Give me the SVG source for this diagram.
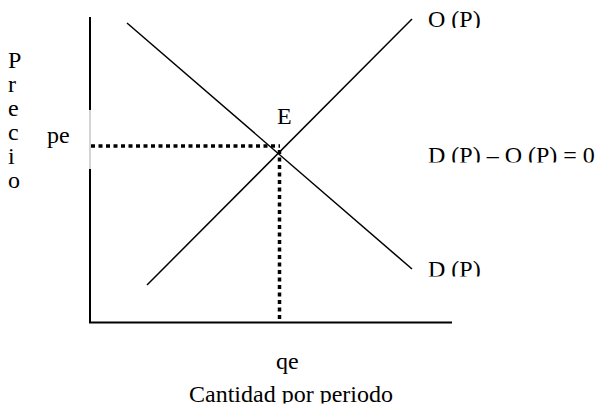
<svg xmlns="http://www.w3.org/2000/svg" width="607" height="415" viewBox="0 0 607 415">
<defs>
<style>
text{font-family:"Liberation Serif","Times New Roman",serif;font-size:24px;fill:#000}
.ax{stroke:#000;stroke-width:2;fill:none}
.cv{stroke:#000;stroke-width:1.5;fill:none}
.dot{stroke:#000;stroke-width:3.5;stroke-dasharray:4 3.5;fill:none}
</style>
<clipPath id="c1"><rect x="420" y="0" width="120" height="28"/></clipPath>
<clipPath id="c2"><rect x="420" y="140" width="187" height="22.5"/></clipPath>
<clipPath id="c3"><rect x="420" y="255" width="120" height="21.5"/></clipPath>
<clipPath id="c4"><rect x="150" y="380" width="300" height="23.5"/></clipPath>
</defs>
<g id="axes">
<line class="ax" x1="90" y1="17" x2="90" y2="110"/>
<line x1="90" y1="110" x2="90" y2="169" stroke="#aaa" stroke-width="1"/>
<line class="ax" x1="90" y1="169" x2="90" y2="323"/>
<line class="ax" x1="89" y1="322.5" x2="452" y2="322.5"/>
</g>
<g id="connectors">
<line id="demand" class="cv" x1="127" y1="23" x2="412" y2="269"/>
<line id="supply" class="cv" x1="147" y1="285" x2="412" y2="19"/>
<line class="dot" x1="91" y1="146" x2="280" y2="146"/>
<line class="dot" x1="279.5" y1="150" x2="279.5" y2="321"/>
</g>
<g id="ylabel">
<text x="8" y="68">P</text>
<text x="8" y="92">r</text>
<text x="8" y="116">e</text>
<text x="8" y="140">c</text>
<text x="8" y="164">i</text>
<text x="8" y="188">o</text>
</g>
<g id="pe"><text x="47" y="143">pe</text></g>
<g id="E"><text x="277" y="124">E</text></g>
<g id="O"><text x="428" y="27" clip-path="url(#c1)">O (P)</text></g>
<g id="eq"><text x="428" y="163" clip-path="url(#c2)">D (P) – O (P) = 0</text></g>
<g id="D"><text x="428" y="277" clip-path="url(#c3)">D (P)</text></g>
<g id="qe"><text x="276" y="369">qe</text></g>
<g id="xlabel"><text x="189" y="402" clip-path="url(#c4)">Cantidad por periodo</text></g>
</svg>
